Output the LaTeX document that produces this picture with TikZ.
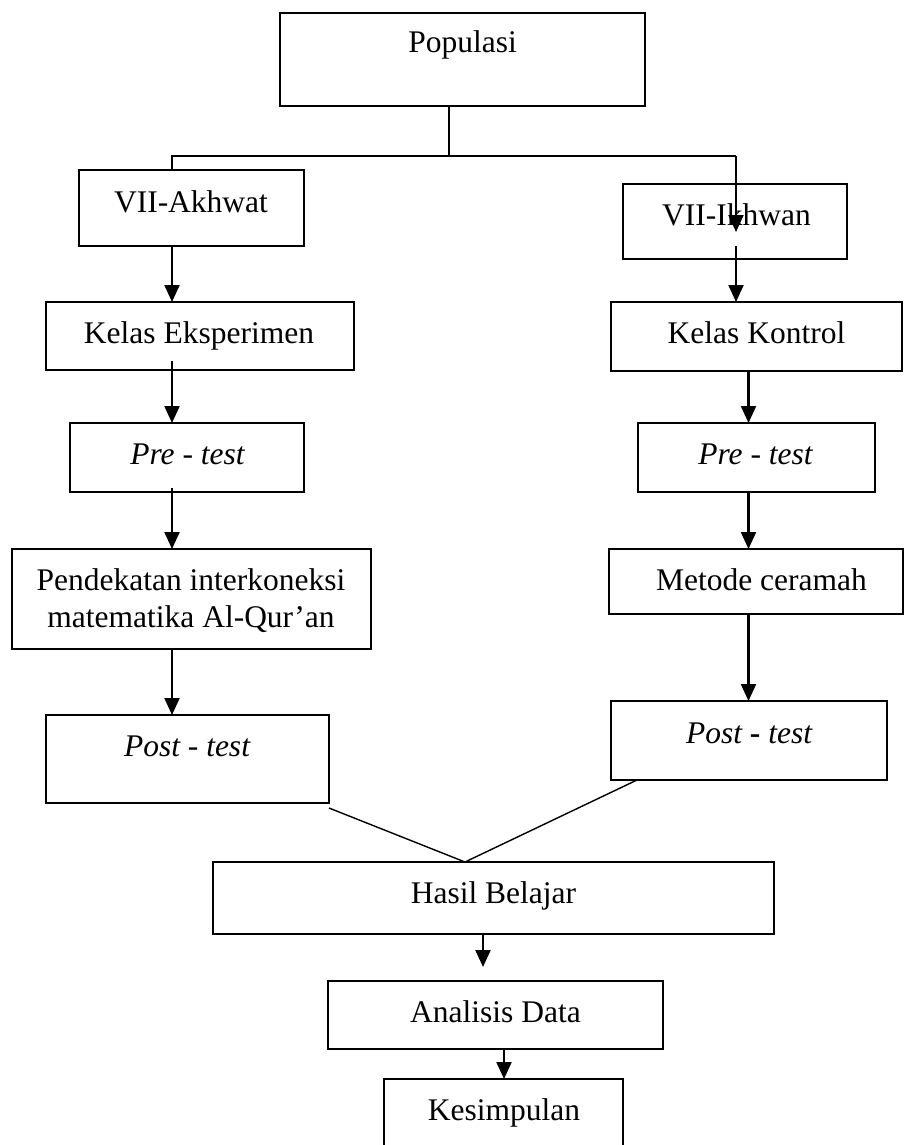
\documentclass[tikz,border=0pt]{standalone}
\usepackage{fontspec}
\setmainfont{Liberation Serif}
\usetikzlibrary{arrows.meta,calc}
\begin{document}
\begin{tikzpicture}[x=1pt,y=-1pt,
  boxnode/.style={draw, line width=1.9pt, inner sep=0pt, outer sep=0pt},
  txt/.style={inner sep=0pt, anchor=base, font=\fontsize{31.5}{37}\selectfont},
  arr/.style={line width=2.2pt, -{Triangle[width=15pt,length=17pt]}},
  plain/.style={line width=1.6pt}]
\useasboundingbox (0,0) rectangle (904,1145);
\fill[white] (0,0) rectangle (904,1145);
% boxes
\node[boxnode, minimum width=365pt, minimum height=93pt] (pop) at (462.5,59.5) {};
\node[boxnode, minimum width=225pt, minimum height=76pt] (akh) at (191.5,208) {};
\node[boxnode, minimum width=224pt, minimum height=75pt] (ikh) at (735,221.5) {};
\node[boxnode, minimum width=308pt, minimum height=68pt] (eks) at (200,336) {};
\node[boxnode, minimum width=291pt, minimum height=69pt] (kon) at (756.5,336.5) {};
\node[boxnode, minimum width=234pt, minimum height=69pt] (pre1) at (187,457.5) {};
\node[boxnode, minimum width=237pt, minimum height=69pt] (pre2) at (756.5,457.5) {};
\node[boxnode, minimum width=359pt, minimum height=100pt] (pend) at (191.5,599) {};
\node[boxnode, minimum width=294pt, minimum height=65pt] (met) at (756,581.5) {};
\node[boxnode, minimum width=283pt, minimum height=88pt] (post1) at (187.5,759) {};
\node[boxnode, minimum width=276pt, minimum height=79pt] (post2) at (749,740.5) {};
\node[boxnode, minimum width=561pt, minimum height=72pt] (hasil) at (493.5,898) {};
\node[boxnode, minimum width=335pt, minimum height=68pt] (anal) at (495.5,1015) {};
\node[boxnode, minimum width=239pt, minimum height=71pt] (kes) at (503.5,1114.5) {};
% texts
\node[txt] (pop-t) at (462.5,53) {Populasi};
\node[txt] (akh-t) at (191,212) {VII-Akhwat};
\node[txt] (ikh-t) at (736.5,225) {VII-Ikhwan};
\node[txt] (eks-t) at (199,343) {Kelas Eksperimen};
\node[txt] (kon-t) at (756.5,343) {Kelas Kontrol};
\node[txt] (pre1-t) at (187.5,464) {\itshape Pre - test};
\node[txt] (pre2-t) at (755.5,464) {\itshape Pre - test};
\node[txt] (pend-t1) at (191,590) {Pendekatan interkoneksi};
\node[txt] (pend-t2) at (191,627) {matematika Al-Qur’an};
\node[txt] (met-t) at (761.5,590) {Metode ceramah};
\node[txt] (post1-t) at (187,756) {\itshape Post - test};
\node[txt] (post2-t) at (749,743) {\itshape Post \textbf{\upshape -} test};
\node[txt] (hasil-t) at (493.5,903) {Hasil Belajar};
\node[txt] (anal-t) at (495.5,1022) {Analisis Data};
\node[txt] (kes-t) at (504,1120) {Kesimpulan};
% tree from Populasi
\coordinate (jn) at (449,156);
\coordinate (jl) at (172,156);
\coordinate (jr) at (736,156);
\coordinate (ikhin) at (736,232);
\draw[plain] (pop.south -| jn) -- (jn);
\draw[plain] (akh.north -| jl) -- (jl) -- (jr);
\draw[arr] (jr) -- (ikhin);
% left column
\draw[arr] (akh.south -| jl) -- (eks.north -| jl);
\draw[arr] ($(eks.south -| jl)+(0,-9)$) -- (pre1.north -| jl);
\draw[arr] ($(pre1.south -| jl)+(0,-4)$) -- (pend.north -| jl);
\draw[arr] (pend.south -| jl) -- (post1.north -| jl);
% right column
\coordinate (rc) at (736,0);
\coordinate (rd) at (748.5,0);
\draw[arr] ($(ikh.south -| rc)+(0,-13)$) -- (kon.north -| rc);
\draw[arr] (kon.south -| rd) -- (pre2.north -| rd);
\draw[arr] (pre2.south -| rd) -- (met.north -| rd);
\draw[arr] (met.south -| rd) -- (post2.north -| rd);
% merge into Hasil Belajar
\coordinate (apex) at (465,862);
\coordinate (ld) at (329,808);
\coordinate (rdg) at (637,780);
\draw[plain, line width=1.4pt] (ld) -- (apex) -- (rdg);
% bottom
\coordinate (h1) at (483,967);
\draw[arr] (hasil.south -| h1) -- (h1);
\coordinate (a1) at (504,0);
\draw[arr] (anal.south -| a1) -- (kes.north -| a1);
\end{tikzpicture}
\end{document}
